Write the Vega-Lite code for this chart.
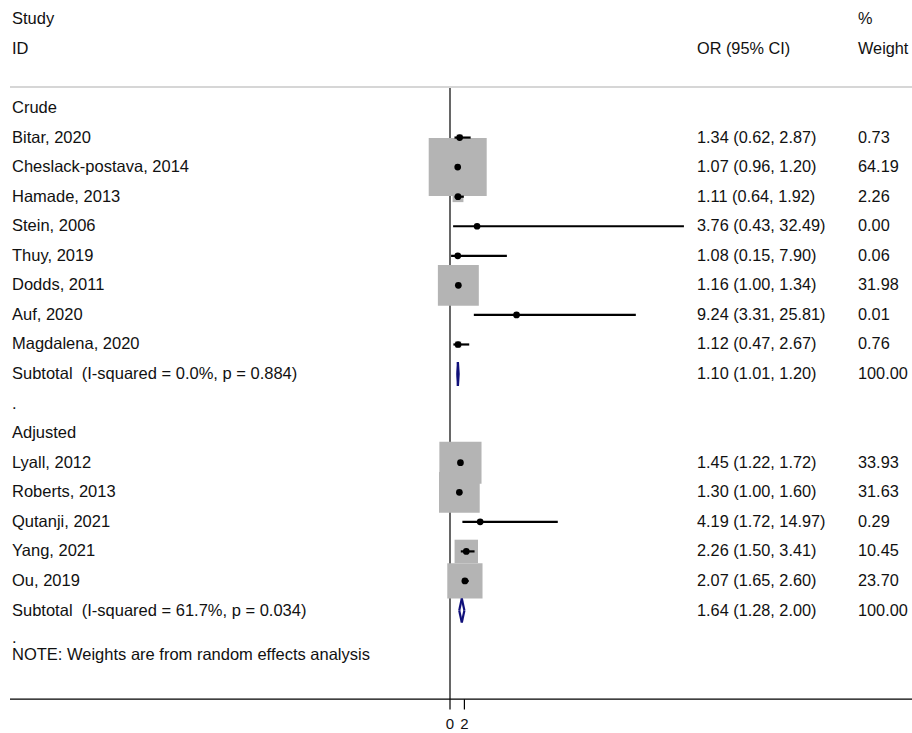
{
  "$schema": "https://vega.github.io/schema/vega-lite/v6.json",
  "width": 912,
  "height": 733,
  "padding": 0,
  "autosize": {"type": "none"},
  "background": "white",
  "view": {"stroke": null},
  "config": {"text": {"font": "Liberation Sans", "fontSize": 16.3, "color": "#111111"}},
  "datasets": {
    "rows": [
      {"row": -3, "label": "Study", "ci": "", "wt": "%"},
      {"row": -2, "label": "ID", "ci": "OR (95% CI)", "wt": "Weight"},
      {"row": 0, "label": "Crude", "ci": "", "wt": ""},
      {"row": 1, "label": "Bitar, 2020", "type": "study", "est": 1.34, "lo": 0.62, "hi": 2.87, "w": 0.73, "ci": "1.34 (0.62, 2.87)", "wt": "0.73"},
      {"row": 2, "label": "Cheslack-postava, 2014", "type": "study", "est": 1.07, "lo": 0.96, "hi": 1.20, "w": 64.19, "ci": "1.07 (0.96, 1.20)", "wt": "64.19"},
      {"row": 3, "label": "Hamade, 2013", "type": "study", "est": 1.11, "lo": 0.64, "hi": 1.92, "w": 2.26, "ci": "1.11 (0.64, 1.92)", "wt": "2.26"},
      {"row": 4, "label": "Stein, 2006", "type": "study", "est": 3.76, "lo": 0.43, "hi": 32.49, "w": 0.0, "ci": "3.76 (0.43, 32.49)", "wt": "0.00"},
      {"row": 5, "label": "Thuy, 2019", "type": "study", "est": 1.08, "lo": 0.15, "hi": 7.90, "w": 0.06, "ci": "1.08 (0.15, 7.90)", "wt": "0.06"},
      {"row": 6, "label": "Dodds, 2011", "type": "study", "est": 1.16, "lo": 1.00, "hi": 1.34, "w": 31.98, "ci": "1.16 (1.00, 1.34)", "wt": "31.98"},
      {"row": 7, "label": "Auf, 2020", "type": "study", "est": 9.24, "lo": 3.31, "hi": 25.81, "w": 0.01, "ci": "9.24 (3.31, 25.81)", "wt": "0.01"},
      {"row": 8, "label": "Magdalena, 2020", "type": "study", "est": 1.12, "lo": 0.47, "hi": 2.67, "w": 0.76, "ci": "1.12 (0.47, 2.67)", "wt": "0.76"},
      {"row": 9, "label": "Subtotal\u00a0 (I-squared = 0.0%, p = 0.884)", "type": "subtotal", "est": 1.10, "lo": 1.01, "hi": 1.20, "ci": "1.10 (1.01, 1.20)", "wt": "100.00"},
      {"row": 10, "label": ".", "ci": "", "wt": ""},
      {"row": 11, "label": "Adjusted", "ci": "", "wt": ""},
      {"row": 12, "label": "Lyall, 2012", "type": "study", "est": 1.45, "lo": 1.22, "hi": 1.72, "w": 33.93, "ci": "1.45 (1.22, 1.72)", "wt": "33.93"},
      {"row": 13, "label": "Roberts, 2013", "type": "study", "est": 1.30, "lo": 1.00, "hi": 1.60, "w": 31.63, "ci": "1.30 (1.00, 1.60)", "wt": "31.63"},
      {"row": 14, "label": "Qutanji, 2021", "type": "study", "est": 4.19, "lo": 1.72, "hi": 14.97, "w": 0.29, "ci": "4.19 (1.72, 14.97)", "wt": "0.29"},
      {"row": 15, "label": "Yang, 2021", "type": "study", "est": 2.26, "lo": 1.50, "hi": 3.41, "w": 10.45, "ci": "2.26 (1.50, 3.41)", "wt": "10.45"},
      {"row": 16, "label": "Ou, 2019", "type": "study", "est": 2.07, "lo": 1.65, "hi": 2.60, "w": 23.70, "ci": "2.07 (1.65, 2.60)", "wt": "23.70"},
      {"row": 17, "label": "Subtotal\u00a0 (I-squared = 61.7%, p = 0.034)", "type": "subtotal", "est": 1.64, "lo": 1.28, "hi": 2.00, "ci": "1.64 (1.28, 2.00)", "wt": "100.00"},
      {"row": 17.92, "label": ".", "ci": "", "wt": ""},
      {"row": 18.5, "label": "NOTE: Weights are from random effects analysis", "ci": "", "wt": ""}
    ],
    "lines": [{"row": -0.71, "kind": "top"}, {"row": 20, "kind": "axis"}],
    "ticks": [{"v": 0, "t": "0", "y1": 20, "y2": 20.35, "ylab": 20.83}, {"v": 2, "t": "2", "y1": 20, "y2": 20.35, "ylab": 20.83}],
    "zero": [{"v": 0, "y1": -0.68, "y2": 20}]
  },
  "layer": [
    {
      "data": {"name": "zero"},
      "mark": {"type": "rule", "color": "#000000", "strokeWidth": 1.2},
      "encoding": {
        "x": {"field": "v", "type": "quantitative", "scale": {"domain": [-62.5, 64.1667], "nice": false, "zero": false}, "axis": null},
        "y": {"field": "y1", "type": "quantitative", "scale": {"domain": [-3.6536, 21.1434], "reverse": true, "nice": false, "zero": false}, "axis": null},
        "y2": {"field": "y2"}
      }
    },
    {
      "data": {"name": "lines"},
      "mark": {"type": "rule", "strokeWidth": 1.3},
      "encoding": {
        "x": {"value": 10}, "x2": {"value": 912},
        "y": {"field": "row", "type": "quantitative"},
        "color": {"field": "kind", "type": "nominal", "scale": {"domain": ["top", "axis"], "range": ["#c8c8c8", "#000000"]}, "legend": null}
      }
    },
    {
      "data": {"name": "ticks"},
      "mark": {"type": "rule", "color": "#000000", "strokeWidth": 1.2},
      "encoding": {"x": {"field": "v", "type": "quantitative"}, "y": {"field": "y1", "type": "quantitative"}, "y2": {"field": "y2"}}
    },
    {
      "data": {"name": "ticks"},
      "mark": {"type": "text", "align": "center", "baseline": "middle", "fontSize": 15},
      "encoding": {"x": {"field": "v", "type": "quantitative"}, "y": {"field": "ylab", "type": "quantitative"}, "text": {"field": "t"}}
    },
    {
      "data": {"name": "rows"},
      "transform": [{"filter": "datum.type === 'study'"}],
      "mark": {"type": "point", "shape": "square", "filled": true, "color": "#b4b4b4", "opacity": 1},
      "encoding": {
        "x": {"field": "est", "type": "quantitative"},
        "y": {"field": "row", "type": "quantitative"},
        "size": {"field": "w", "type": "quantitative", "scale": {"type": "linear", "domain": [0, 64.19], "range": [0, 3364], "zero": true}, "legend": null}
      }
    },
    {
      "data": {"name": "rows"},
      "transform": [{"filter": "datum.type === 'study'"}],
      "mark": {"type": "rule", "color": "#000000", "strokeWidth": 2.2},
      "encoding": {"x": {"field": "lo", "type": "quantitative"}, "x2": {"field": "hi"}, "y": {"field": "row", "type": "quantitative"}}
    },
    {
      "data": {"name": "rows"},
      "transform": [{"filter": "datum.type === 'study'"}],
      "mark": {"type": "point", "shape": "circle", "filled": true, "color": "#000000", "size": 45, "opacity": 1},
      "encoding": {"x": {"field": "est", "type": "quantitative"}, "y": {"field": "row", "type": "quantitative"}}
    },
    {
      "data": {"name": "rows"},
      "transform": [{"filter": "datum.type === 'subtotal'"}],
      "mark": {"type": "rule", "color": "#10107a", "strokeWidth": 2.2, "y2Offset": -12},
      "encoding": {"x": {"field": "lo", "type": "quantitative"}, "x2": {"field": "est"}, "y": {"field": "row", "type": "quantitative"}, "y2": {"field": "row"}}
    },
    {
      "data": {"name": "rows"},
      "transform": [{"filter": "datum.type === 'subtotal'"}],
      "mark": {"type": "rule", "color": "#10107a", "strokeWidth": 2.2, "y2Offset": -12},
      "encoding": {"x": {"field": "hi", "type": "quantitative"}, "x2": {"field": "est"}, "y": {"field": "row", "type": "quantitative"}, "y2": {"field": "row"}}
    },
    {
      "data": {"name": "rows"},
      "transform": [{"filter": "datum.type === 'subtotal'"}],
      "mark": {"type": "rule", "color": "#10107a", "strokeWidth": 2.2, "y2Offset": 12},
      "encoding": {"x": {"field": "lo", "type": "quantitative"}, "x2": {"field": "est"}, "y": {"field": "row", "type": "quantitative"}, "y2": {"field": "row"}}
    },
    {
      "data": {"name": "rows"},
      "transform": [{"filter": "datum.type === 'subtotal'"}],
      "mark": {"type": "rule", "color": "#10107a", "strokeWidth": 2.2, "y2Offset": 12},
      "encoding": {"x": {"field": "hi", "type": "quantitative"}, "x2": {"field": "est"}, "y": {"field": "row", "type": "quantitative"}, "y2": {"field": "row"}}
    },
    {
      "data": {"name": "rows"},
      "mark": {"type": "text", "align": "left", "baseline": "middle", "fontSize": 16.5},
      "encoding": {"x": {"value": 12}, "y": {"field": "row", "type": "quantitative"}, "text": {"field": "label"}}
    },
    {
      "data": {"name": "rows"},
      "mark": {"type": "text", "align": "left", "baseline": "middle"},
      "encoding": {"x": {"value": 697}, "y": {"field": "row", "type": "quantitative"}, "text": {"field": "ci"}}
    },
    {
      "data": {"name": "rows"},
      "mark": {"type": "text", "align": "left", "baseline": "middle"},
      "encoding": {"x": {"value": 858}, "y": {"field": "row", "type": "quantitative"}, "text": {"field": "wt"}}
    }
  ]
}
